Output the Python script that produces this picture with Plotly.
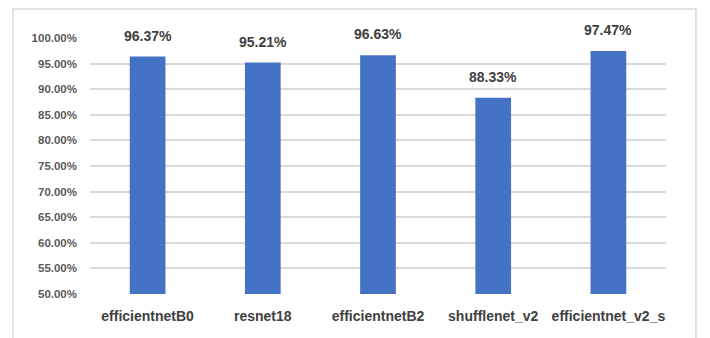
import plotly.graph_objects as go

categories = ["efficientnetB0", "resnet18", "efficientnetB2", "shufflenet_v2", "efficientnet_v2_s"]
accuracy = [0.9637, 0.9521, 0.9663, 0.8833, 0.9747]
tick_values = [0.50, 0.55, 0.60, 0.65, 0.70, 0.75, 0.80, 0.85, 0.90, 0.95, 1.00]

FONT = "Liberation Sans"

fig = go.Figure()
fig.add_trace(go.Bar(
    x=categories, y=accuracy, marker=dict(color="#4472C4", line=dict(width=0)),
    hoverinfo="skip", showlegend=False,
))

for c, v in zip(categories, accuracy):
    fig.add_annotation(
        x=c, y=v, xref="x", yref="y", text=f"{v*100:.2f}%", showarrow=False,
        yanchor="bottom", yshift=11,
        font=dict(family=FONT, size=14, color="#404040", weight="bold"),
    )

fig.add_shape(type="rect", xref="paper", yref="paper",
              x0=-0.1337, x1=1.052, y0=-0.18, y1=1.113,
              line=dict(color="#d9d9d9", width=1.5), layer="below")

fig.update_layout(
    width=710, height=338,
    margin=dict(l=90, r=44, t=38, b=44),
    paper_bgcolor="white", plot_bgcolor="white",
    bargap=0.69,
    xaxis=dict(
        showgrid=False, showline=False, zeroline=False, ticks="",
        tickfont=dict(family=FONT, size=14, color="#404040", weight="bold"),
        ticklabelstandoff=12,
    ),
    yaxis=dict(
        range=[0.5, 1.0], tickvals=tick_values, tickformat=".2%",
        showgrid=True, gridcolor="#d9d9d9", gridwidth=1.5,
        zeroline=False, showline=False, ticks="",
        tickfont=dict(family=FONT, size=11.5, color="#595959", weight="bold"),
        ticklabelstandoff=12,
    ),
)

fig.write_html("out.html")
